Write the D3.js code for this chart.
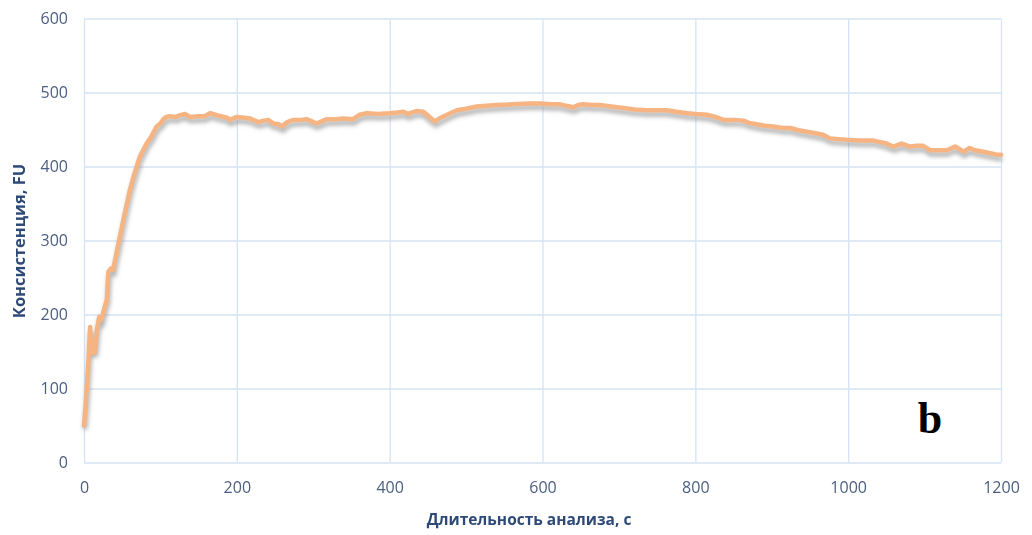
<!DOCTYPE html>
<html>
<head>
<meta charset="utf-8">
<script src="https://cdn.jsdelivr.net/npm/d3@7"></script>
<style>
  html, body { margin: 0; padding: 0; background: #fff; }
  svg { display: block; }
</style>
</head>
<body>
<svg id="chart" width="1032" height="535"></svg>
<script>
// Time, s
const timeSec = [
  0, 2, 3.5, 6, 8, 10, 12, 14, 17, 20, 23, 27, 30, 32, 35, 38, 42, 47, 53, 60,
  66, 73, 82, 88, 95, 100, 104, 108, 112, 120, 125, 132, 139, 150, 158, 165, 175, 187, 191, 200,
  210, 217, 228, 235, 241, 248, 255, 259, 266, 274, 285, 291, 298, 304, 311, 318, 330, 339, 352, 361,
  370, 385, 400, 410, 418, 424, 435, 444, 452, 459, 467, 475, 488, 500, 514, 527, 540, 560, 584, 597,
  610, 623, 631, 640, 647, 653, 665, 675, 690, 706, 720, 736, 750, 762, 775, 789, 800, 815, 826, 837,
  850, 863, 870, 880, 891, 902, 914, 924, 935, 946, 957, 967, 976, 988, 998, 1015, 1033, 1042, 1050, 1059,
  1070, 1081, 1090, 1098, 1107, 1118, 1129, 1140, 1151, 1159, 1166, 1172, 1186, 1194, 1200
];
// Consistency, FU
const consistencyFU = [
  50, 75, 98, 140, 183, 148, 165, 148, 180, 197, 193, 210, 220, 258, 262, 260, 280, 305, 335, 368,
  390, 413, 431, 440, 454, 458, 464, 467, 468, 467, 469, 471, 467, 468, 468, 472, 469, 466, 463, 467,
  466, 465, 460, 462, 463, 458, 457, 454, 460, 463, 463, 464, 461, 458, 461, 464, 464, 465, 464, 470,
  472, 471, 472, 473, 474, 471, 475, 474, 467, 461, 466, 470, 476, 478, 481, 482, 483, 484, 485, 485,
  484, 484, 482, 480, 483, 484, 483, 483, 481, 479, 477, 476, 476, 476, 474, 472, 471, 470, 467, 463,
  463, 462, 459, 457, 455, 454, 452, 452, 449, 447, 445, 443, 438, 437, 436, 435, 435, 433, 431, 427,
  431, 427, 428, 428, 422, 422, 422, 427, 420, 425, 422, 421, 418, 416, 416
];
const xTicks = [0, 200, 400, 600, 800, 1000, 1200];
const yTicks = [0, 100, 200, 300, 400, 500, 600];
const xTitle = "Длительность анализа, с";
const yTitle = "Консистенция, FU";
const panelLabel = "b";

const svg = d3.select("#chart");
const plotLeft = 84, plotRight = 1001, plotTop = 18.5, plotBottom = 462.5;

const x = d3.scaleLinear().domain([0, 1200]).range([plotLeft, plotRight]);
const y = d3.scaleLinear().domain([0, 600]).range([plotBottom, plotTop]);

const gridColor = "#d6e3f4";
const tickColor = "#4b5f80";
const titleColor = "#2d4a78";

const defs = svg.append("defs");
// slight softening used for text
defs.append("filter").attr("id", "soft")
  .append("feGaussianBlur").attr("stdDeviation", 0.35);
// blur for the line's drop shadow
defs.append("filter").attr("id", "shadowBlur")
  .attr("x", "-5%").attr("y", "-20%").attr("width", "110%").attr("height", "140%")
  .append("feGaussianBlur").attr("stdDeviation", 2);

// gridlines
svg.append("g")
  .attr("transform", `translate(0,${plotBottom})`)
  .call(d3.axisBottom(x).tickValues(xTicks).tickSize(-(plotBottom - plotTop)).tickFormat(""))
  .call(g => g.select(".domain").remove())
  .call(g => g.selectAll("line").attr("stroke", gridColor).attr("stroke-width", 1.3));
svg.append("g")
  .attr("transform", `translate(${plotLeft},0)`)
  .call(d3.axisLeft(y).tickValues(yTicks).tickSize(-(plotRight - plotLeft)).tickFormat(""))
  .call(g => g.select(".domain").remove())
  .call(g => g.selectAll("line").attr("stroke", gridColor).attr("stroke-width", 1.3));

// tick labels
const xAxis = svg.append("g")
  .attr("transform", `translate(0,${plotBottom})`)
  .call(d3.axisBottom(x).tickValues(xTicks).tickSize(0).tickPadding(19).tickFormat(d3.format("d")));
xAxis.select(".domain").remove();
const yAxis = svg.append("g")
  .attr("transform", `translate(${plotLeft},0)`)
  .call(d3.axisLeft(y).tickValues(yTicks).tickSize(0).tickPadding(16).tickFormat(d3.format("d")));
yAxis.select(".domain").remove();
svg.selectAll(".tick text")
  .attr("fill", tickColor)
  .attr("font-family", "'Open Sans', sans-serif")
  .attr("font-size", 16)
  .attr("filter", "url(#soft)");

// axis titles
svg.append("text")
  .attr("x", 529).attr("y", 525)
  .attr("text-anchor", "middle")
  .attr("font-family", "'Open Sans', sans-serif")
  .attr("font-weight", "bold")
  .attr("font-size", 15.5)
  .attr("fill", titleColor)
  .attr("filter", "url(#soft)")
  .text(xTitle);
svg.append("text")
  .attr("transform", `translate(25,241) rotate(-90)`)
  .attr("text-anchor", "middle")
  .attr("font-family", "'Open Sans', sans-serif")
  .attr("font-weight", "bold")
  .attr("font-size", 16.5)
  .attr("fill", titleColor)
  .attr("filter", "url(#soft)")
  .text(yTitle);

// line with soft drop shadow
const pts = timeSec.map((t, i) => [t, consistencyFU[i]]);
const line = d3.line().x(d => x(d[0])).y(d => y(d[1])).curve(d3.curveLinear);

svg.append("path")
  .datum(pts)
  .attr("d", line)
  .attr("transform", "translate(1,4)")
  .attr("fill", "none")
  .attr("stroke", "#8c8c8c")
  .attr("stroke-opacity", 0.7)
  .attr("stroke-width", 4.5)
  .attr("filter", "url(#shadowBlur)");

svg.append("path")
  .datum(pts)
  .attr("d", line)
  .attr("fill", "none")
  .attr("stroke", "#f5b482")
  .attr("stroke-width", 4.5)
  .attr("stroke-linejoin", "round")
  .attr("stroke-linecap", "round");

// panel label
svg.append("text")
  .attr("x", 930).attr("y", 433)
  .attr("text-anchor", "middle")
  .attr("font-family", "'Liberation Serif', 'Times New Roman', serif")
  .attr("font-weight", "bold")
  .attr("font-size", 44)
  .attr("fill", "#000")
  .text(panelLabel);
</script>
</body>
</html>
